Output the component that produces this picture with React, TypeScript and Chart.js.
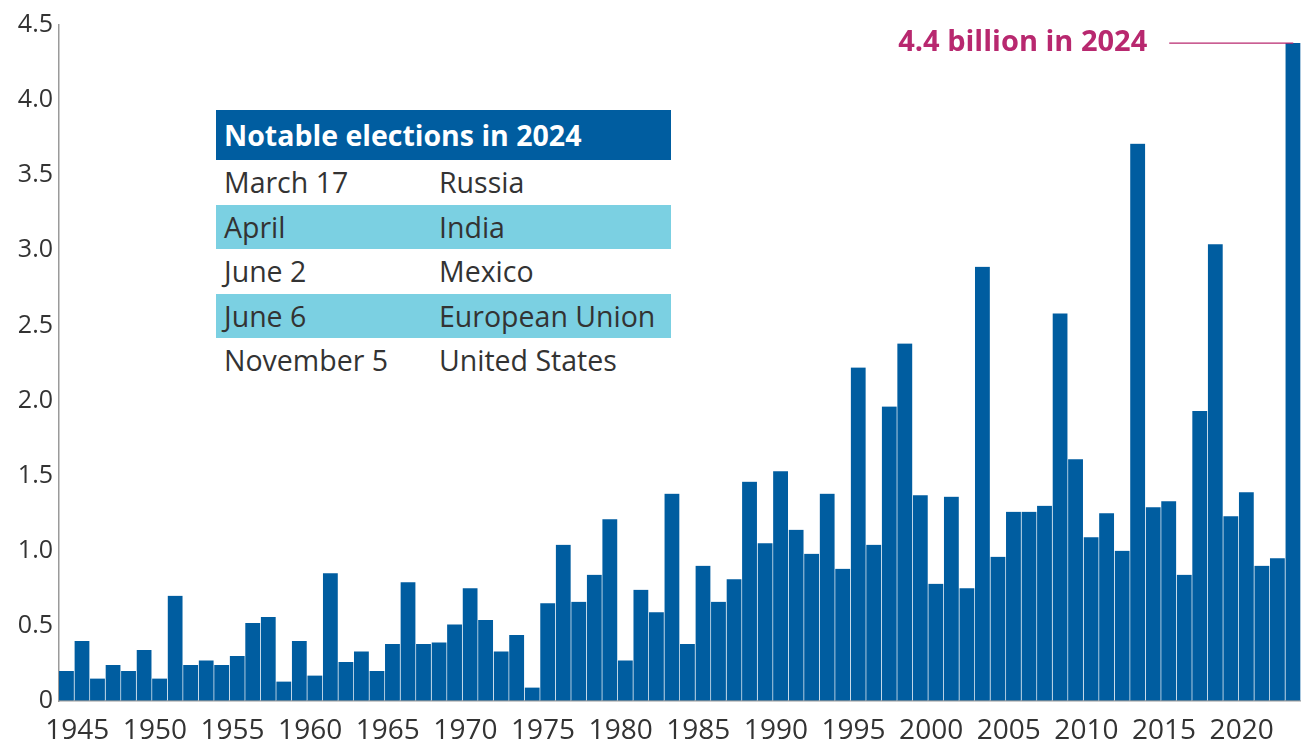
import React, { useEffect, useRef } from "react";
import { Chart, registerables } from "chart.js";

Chart.register(...registerables);

// ---- data ----
const years = [
  "1945", "1946", "1947", "1948", "1949", "1950", "1951", "1952", "1953", "1954",
  "1955", "1956", "1957", "1958", "1959", "1960", "1961", "1962", "1963", "1964",
  "1965", "1966", "1967", "1968", "1969", "1970", "1971", "1972", "1973", "1974",
  "1975", "1976", "1977", "1978", "1979", "1980", "1981", "1982", "1983", "1984",
  "1985", "1986", "1987", "1988", "1989", "1990", "1991", "1992", "1993", "1994",
  "1995", "1996", "1997", "1998", "1999", "2000", "2001", "2002", "2003", "2004",
  "2005", "2006", "2007", "2008", "2009", "2010", "2011", "2012", "2013", "2014",
  "2015", "2016", "2017", "2018", "2019", "2020", "2021", "2022", "2023", "2024",
];

// billions of voters
const voters = [
  0.20, 0.40, 0.15, 0.24, 0.20, 0.34, 0.15, 0.70, 0.24, 0.27,
  0.24, 0.30, 0.52, 0.56, 0.13, 0.40, 0.17, 0.85, 0.26, 0.33,
  0.20, 0.38, 0.79, 0.38, 0.39, 0.51, 0.75, 0.54, 0.33, 0.44,
  0.09, 0.65, 1.04, 0.66, 0.84, 1.21, 0.27, 0.74, 0.59, 1.38,
  0.38, 0.90, 0.66, 0.81, 1.46, 1.05, 1.53, 1.14, 0.98, 1.38,
  0.88, 2.22, 1.04, 1.96, 2.38, 1.37, 0.78, 1.36, 0.75, 2.89,
  0.96, 1.26, 1.26, 1.30, 2.58, 1.61, 1.09, 1.25, 1.00, 3.71,
  1.29, 1.33, 0.84, 1.93, 3.04, 1.23, 1.39, 0.90, 0.95, 4.38,
];

const xTickYears = [
  "1945", "1950", "1955", "1960", "1965", "1970", "1975", "1980",
  "1985", "1990", "1995", "2000", "2005", "2010", "2015", "2020",
];

const yMin = 0;
const yMax = 4.5;
const yStep = 0.5;

const annotationText = "4.4 billion in 2024";

const tableTitle = "Notable elections in 2024";
const electionDates = ["March 17", "April", "June 2", "June 6", "November 5"];
const electionPlaces = ["Russia", "India", "Mexico", "European Union", "United States"];

// ---- styles ----
const BLUE = "#005DA0";
const CYAN = "#7BD0E2";
const MAGENTA = "#B8286F";
const TEXT = "#333333";
const AXIS = "#9a9a9a";
const FONT = "'Open Sans', 'DejaVu Sans', sans-serif";

const annotationPlugin = {
  id: "annot2024",
  afterDatasetsDraw(chart: any) {
    const meta = chart.getDatasetMeta(0);
    const last = meta.data[meta.data.length - 1];
    if (!last) return;
    const { x, y } = last.getProps(["x", "y"], true);
    const ctx = chart.ctx;
    ctx.save();
    ctx.strokeStyle = MAGENTA;
    ctx.lineWidth = 1.3;
    ctx.beginPath();
    ctx.moveTo(x - 124, y);
    ctx.lineTo(x, y);
    ctx.stroke();
    ctx.font = `bold 29px ${FONT}`;
    ctx.fillStyle = MAGENTA;
    ctx.textAlign = "right";
    ctx.textBaseline = "middle";
    ctx.fillText(annotationText, x - 146, y);
    ctx.restore();
  },
};

function ElectionsTable() {
  const left = 216;
  const top = 110;
  const width = 455;
  const headerH = 50;
  const rowH = 44.6;
  return (
    <div style={{ position: "absolute", left, top, width, fontFamily: FONT }}>
      <div
        style={{
          height: headerH,
          lineHeight: `${headerH}px`,
          background: BLUE,
          color: "#ffffff",
          fontWeight: 700,
          fontSize: 28.5,
          paddingLeft: 8,
          whiteSpace: "nowrap",
        }}
      >
        {tableTitle}
      </div>
      {electionDates.map((d, i) => (
        <div
          key={d}
          style={{
            height: rowH,
            lineHeight: `${rowH}px`,
            background: i % 2 === 1 ? CYAN : "#ffffff",
            color: TEXT,
            fontSize: 28.5,
            display: "flex",
            whiteSpace: "nowrap",
          }}
        >
          <span style={{ width: 223, paddingLeft: 8, boxSizing: "border-box" }}>{d}</span>
          <span>{electionPlaces[i]}</span>
        </div>
      ))}
    </div>
  );
}

export default function App() {
  const canvasRef = useRef<HTMLCanvasElement | null>(null);

  useEffect(() => {
    if (!canvasRef.current) return;
    const chart = new Chart(canvasRef.current, {
      type: "bar",
      data: {
        labels: years,
        datasets: [
          {
            data: voters,
            backgroundColor: BLUE,
            borderColor: "#ffffff",
            borderWidth: { top: 0, right: 1, bottom: 0, left: 0 },
            borderSkipped: "start",
            barPercentage: 1,
            categoryPercentage: 1,
          },
        ],
      },
      options: {
        responsive: false,
        animation: false,
        layout: { padding: { top: 25, right: 0, bottom: 0, left: 0 } },
        plugins: {
          legend: { display: false },
          tooltip: { enabled: false },
        },
        scales: {
          x: {
            grid: { display: true, drawOnChartArea: false, drawTicks: false },
            border: { display: true, color: AXIS, width: 1.5 },
            ticks: {
              autoSkip: false,
              maxRotation: 0,
              minRotation: 0,
              padding: 13,
              labelOffset: 10.5,
              color: TEXT,
              font: { family: FONT, size: 28 },
              callback: (_v: any, idx: number) =>
                xTickYears.includes(years[idx]) ? years[idx] : "",
            },
            afterFit: (scale: any) => {
              scale.height = 41;
              scale.paddingRight = 0;
              scale.paddingLeft = 0;
            },
          },
          y: {
            min: yMin,
            max: yMax,
            grid: { display: true, drawOnChartArea: false, drawTicks: false },
            border: { display: true, color: AXIS, width: 1.5 },
            ticks: {
              stepSize: yStep,
              padding: 6,
              color: TEXT,
              font: { family: FONT, size: 25 },
              callback: (v: any) => (Number(v) === 0 ? "0" : Number(v).toFixed(1)),
            },
            afterFit: (scale: any) => {
              scale.width = 59;
              scale.paddingTop = 0;
              scale.paddingBottom = 0;
            },
          },
        },
      },
      plugins: [annotationPlugin],
    });
    return () => chart.destroy();
  }, []);

  return (
    <div style={{ position: "absolute", left: 0, top: 0, width: 1301, height: 742, background: "#fff" }}>
      <canvas ref={canvasRef} width={1301} height={742} style={{ display: "block" }} />
      <ElectionsTable />
    </div>
  );
}
